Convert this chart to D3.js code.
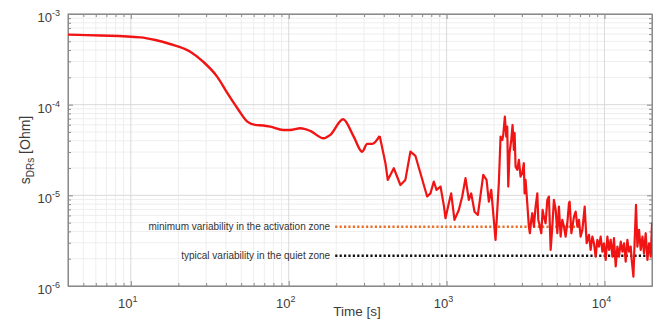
<!DOCTYPE html>
<html><head><meta charset="utf-8">
<script src="https://cdn.jsdelivr.net/npm/d3@7"></script>
<style>body{margin:0;background:#fff}svg{display:block}</style>
</head><body>
<svg id="c" width="667" height="320"></svg>
<script>
// ---- data ----
const times = [4.0,6.4,11.5,14.3,17.7,23.8,28.7,35.2,40.8,47.2,54.7,61.4,69.0,76.4,92.4,102,118.5,137,166,183.5,221,258,292,314,338,377,410,424,463,510,548,590,635,683,753,790,830,863,915,960,984,1033,1069,1122,1195,1256,1318,1383,1432,1503,1578,1707,1791,1852,1918,1974,
  2042,2143,2197,2252,2285,2339,2388,2422,2458,2506,2568,2617,2668,2696,2735,2803,2870,2941,3015,3085,3119,3163,3243,3320,3370,3439,3490,3572,3663,3755,3810,3899,3980,4056,4134,4237,4345,4446,4562,4673,4784,4909,5028,5146,5276,5405,5536,5674,5817,5960,6016,6170,6410,6570,6735,6894,7065,7245,7493,7714,7978,8175,8380,8580,8795,9015,9228,9460,9700,9927,10180,10433,10690,10946,11230,11488,11780,12074,12360,12680,12990,13310,13627,13970,14300,14660,14876,15250,15540,15840,16165,16560,16965,17400,17800,18240,18710,19150,19635,20010,20425];
const values = [5.92e-4,5.8e-4,5.53e-4,5.17e-4,4.67e-4,3.84e-4,2.98e-4,2.04e-4,1.35e-4,9.2e-5,6.5e-5,5.98e-5,5.9e-5,5.72e-5,5.26e-5,5.26e-5,5.49e-5,5.13e-5,4.26e-5,4.64e-5,6.9e-5,4.44e-5,3.03e-5,3.69e-5,3.69e-5,4.52e-5,2.26e-5,1.48e-5,1.99e-5,1.30e-5,1.48e-5,3.03e-5,2.72e-5,1.75e-5,9.7e-6,1.05e-5,1.42e-5,1.15e-5,1.25e-5,7.8e-6,5.6e-6,8.2e-6,1.05e-5,5.36e-6,6.9e-6,9.7e-6,1.55e-5,8.9e-6,1.05e-5,6.6e-6,6.08e-6,1.68e-5,1.48e-5,8.5e-6,1.15e-5,6.35e-6,
  3.22e-6,1.37e-5,4.44e-5,4.08e-5,4.63e-5,7.38e-5,4.44e-5,5.72e-5,1.25e-5,2.93e-5,4.08e-5,5.97e-5,3.17e-5,4.88e-5,2.07e-5,1.91e-5,2.46e-5,1.61e-5,1.75e-5,2.26e-5,1.05e-5,1.48e-5,8.2e-6,4.52e-6,3.82e-6,5.36e-6,6.35e-6,4.52e-6,7.5e-6,1.05e-5,5.36e-6,4.52e-6,3.82e-6,6.9e-6,5.82e-6,4.92e-6,8.9e-6,9.7e-6,2.5e-6,4.52e-6,8.9e-6,6.9e-6,3.82e-6,7.5e-6,3.51e-6,5.36e-6,4.52e-6,3.51e-6,4.92e-6,8.2e-6,8.5e-6,3.82e-6,5.82e-6,6.6e-6,4.52e-6,5.36e-6,3.51e-6,4.16e-6,7.5e-6,2.96e-6,3.66e-6,2.5e-6,3.51e-6,2.96e-6,2.11e-6,3.22e-6,2.72e-6,3.51e-6,2.39e-6,2.96e-6,1.94e-6,3.51e-6,2.5e-6,3.22e-6,2.11e-6,3.37e-6,1.64e-6,2.72e-6,2.11e-6,3.09e-6,2.39e-6,2.96e-6,1.86e-6,3.22e-6,2.39e-6,2.72e-6,1.94e-6,1.27e-6,3.22e-6,7.84e-6,2.72e-6,4.16e-6,2.5e-6,3.51e-6,2.3e-6,3.82e-6,1.94e-6,2.96e-6,2.11e-6,4.92e-6,1.94e-6];
const smoothUntil = 377; // smooth part of the record; the rest is drawn point to point
const xMajor = [10, 100, 1000, 10000];
const xMajorExp = ["1","2","3","4"];
const yMajor = [1e-6, 1e-5, 1e-4, 1e-3];
const yMajorExp = ["-6","-5","-4","-3"];
const levelNames = ["minimum variability in the activation zone", "typical variability in the quiet zone"];
const levelValues = [4.5e-6, 2.15e-6];
const levelStart = [197, 197];
const levelEnd = [7000, 18600];
const levelColors = ["#e8702a", "#111111"];

// ---- layout ----
const L = 68, R = 652, T = 14, B = 286;
const svg = d3.select("#c");
const x = d3.scaleLog().domain([4, 20000]).range([L, R]);
const y = d3.scaleLog().domain([1e-6, 1e-3]).range([B, T]);
const font = "'Liberation Sans', Arial, sans-serif";

const xMinor = [], yMinor = [];
for (let d = 1; d <= 10000; d *= 10) for (let k = 2; k <= 9; k++) { const v = d * k; if (v >= 4 && v <= 20000) xMinor.push(v); }
for (let d = 1e-6; d < 1e-3; d *= 10) for (let k = 2; k <= 9; k++) yMinor.push(d * k);

// grid
const g = svg.append("g");
g.selectAll(".gxm").data(xMinor).join("line").attr("x1", d => x(d)).attr("x2", d => x(d)).attr("y1", T).attr("y2", B).attr("stroke", "#eeeeee").attr("stroke-width", 1);
g.selectAll(".gym").data(yMinor).join("line").attr("y1", d => y(d)).attr("y2", d => y(d)).attr("x1", L).attr("x2", R).attr("stroke", "#eeeeee").attr("stroke-width", 1);
g.selectAll(".gxM").data(xMajor).join("line").attr("x1", d => x(d)).attr("x2", d => x(d)).attr("y1", T).attr("y2", B).attr("stroke", "#dadada").attr("stroke-width", 1);
g.selectAll(".gyM").data(yMajor).join("line").attr("y1", d => y(d)).attr("y2", d => y(d)).attr("x1", L).attr("x2", R).attr("stroke", "#dadada").attr("stroke-width", 1);

// axes (ticks inside, box)
const axCol = "#8a8a8a";
function styleAx(sel) { sel.selectAll("path,line").attr("stroke", axCol); sel.selectAll("text").remove(); }
svg.append("g").attr("transform", `translate(0,${B})`).call(d3.axisBottom(x).tickValues(xMajor).tickSizeInner(-5).tickSizeOuter(0)).call(styleAx);
svg.append("g").attr("transform", `translate(0,${B})`).call(d3.axisBottom(x).tickValues(xMinor).tickSizeInner(-3).tickSizeOuter(0)).call(styleAx);
svg.append("g").attr("transform", `translate(0,${T})`).call(d3.axisTop(x).tickValues(xMajor).tickSizeInner(-5).tickSizeOuter(0)).call(styleAx);
svg.append("g").attr("transform", `translate(0,${T})`).call(d3.axisTop(x).tickValues(xMinor).tickSizeInner(-3).tickSizeOuter(0)).call(styleAx);
svg.append("g").attr("transform", `translate(${L},0)`).call(d3.axisLeft(y).tickValues(yMajor).tickSizeInner(-5).tickSizeOuter(0)).call(styleAx);
svg.append("g").attr("transform", `translate(${L},0)`).call(d3.axisLeft(y).tickValues(yMinor).tickSizeInner(-3).tickSizeOuter(0)).call(styleAx);
svg.append("g").attr("transform", `translate(${R},0)`).call(d3.axisRight(y).tickValues(yMajor).tickSizeInner(-5).tickSizeOuter(0)).call(styleAx);
svg.append("g").attr("transform", `translate(${R},0)`).call(d3.axisRight(y).tickValues(yMinor).tickSizeInner(-3).tickSizeOuter(0)).call(styleAx);
svg.append("rect").attr("x", L).attr("y", T).attr("width", R - L).attr("height", B - T).attr("fill", "none").attr("stroke", axCol).attr("stroke-width", 1);

// tick labels with superscripts
const labCol = "#3c3c3c";
const xl = svg.append("g").attr("font-family", font).attr("fill", labCol);
xMajor.forEach((v, i) => {
  const t = xl.append("text").attr("x", x(v) - 3).attr("y", B + 22).attr("text-anchor", "middle").attr("font-size", 13);
  t.append("tspan").text("10");
  t.append("tspan").attr("dy", -6).attr("font-size", 9).text(xMajorExp[i]);
});
const yl = svg.append("g").attr("font-family", font).attr("fill", labCol);
yMajor.forEach((v, i) => {
  const t = yl.append("text").attr("x", L - 8).attr("y", y(v) + 8).attr("text-anchor", "end").attr("font-size", 13);
  t.append("tspan").text("10");
  t.append("tspan").attr("dy", -6).attr("font-size", 9).text(yMajorExp[i]);
});

// axis titles
svg.append("text").attr("x", 357).attr("y", 316).attr("text-anchor", "middle").attr("font-family", font).attr("font-size", 13.5).attr("fill", labCol).text("Time [s]");
const yt = svg.append("text").attr("transform", "translate(30,150) rotate(-90)").attr("text-anchor", "middle").attr("font-family", font).attr("font-size", 14).attr("fill", labCol);
yt.append("tspan").text("s");
yt.append("tspan").attr("dy", 4).attr("font-size", 10).text("DRs");
yt.append("tspan").attr("dy", -4).text(" [Ohm]");

svg.append("clipPath").attr("id", "clip").append("rect").attr("x", L).attr("y", T).attr("width", R - L).attr("height", B - T);

// reference levels
const lv = svg.append("g");
levelValues.forEach((v, i) => {
  lv.append("line").attr("x1", x(levelStart[i])).attr("x2", x(levelEnd[i])).attr("y1", y(v)).attr("y2", y(v))
    .attr("stroke", levelColors[i]).attr("stroke-width", 2.5).attr("stroke-dasharray", "2.2,2.2");
  lv.append("text").attr("x", x(levelStart[i]) - 5).attr("y", y(v) + 3.5).attr("text-anchor", "end")
    .attr("font-family", font).attr("font-size", 10).attr("fill", "#333").text(levelNames[i]);
});

// data line
const data = times.map((t, i) => [t, values[i]]);
const smooth = data.filter(d => d[0] <= smoothUntil);
const rough = data.filter(d => d[0] >= smoothUntil);
const lc = "#f01414";
svg.append("path").datum(smooth).attr("clip-path", "url(#clip)")
  .attr("fill", "none").attr("stroke", lc).attr("stroke-width", 2.4).attr("stroke-linejoin", "round")
  .attr("d", d3.line().x(d => x(d[0])).y(d => y(d[1])).curve(d3.curveMonotoneX));
svg.append("path").datum(rough).attr("clip-path", "url(#clip)")
  .attr("fill", "none").attr("stroke", lc).attr("stroke-width", 2.2).attr("stroke-linejoin", "round")
  .attr("d", d3.line().x(d => x(d[0])).y(d => y(d[1])));
</script>
</body></html>
